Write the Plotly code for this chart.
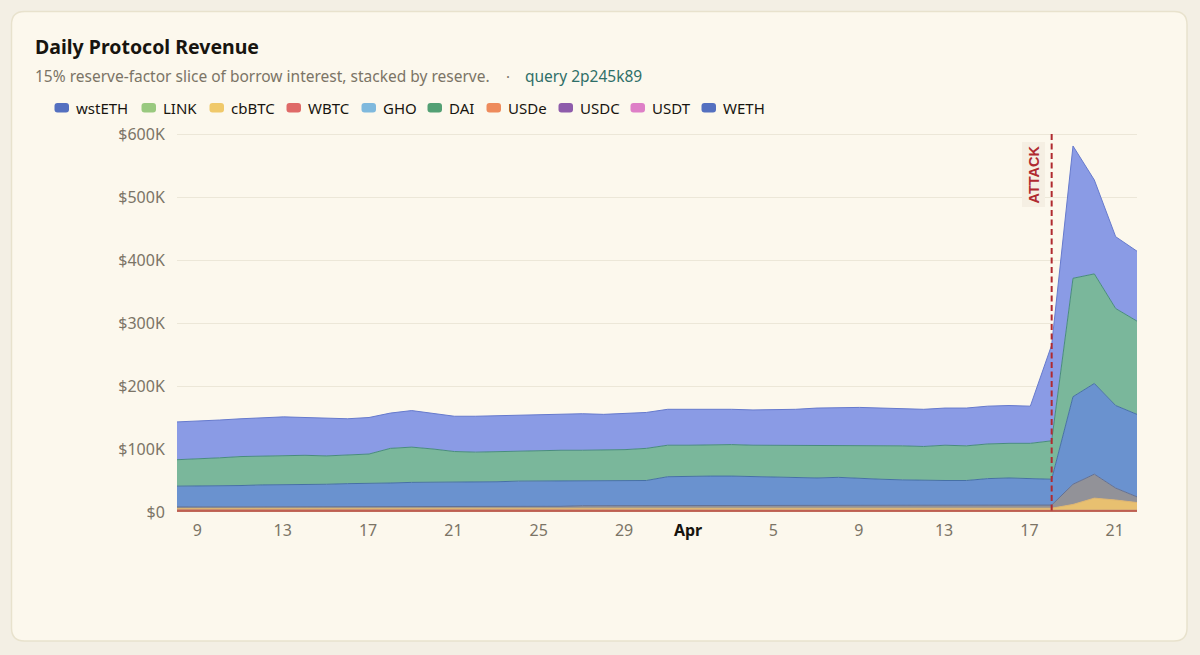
import pandas as pd
import plotly.graph_objects as go

# daily revenue per reserve, $K, Mar 8 - Apr 22
dates = pd.date_range("2025-03-08 01:00", periods=46, freq="D")

WBTC = [3] * 46
USDe = [2] * 43 + [1, 1, 1]
USDC = [0] * 46
USDT = [0] * 46
LINK = [0] * 46
cbBTC = [1] * 42 + [7, 18, 15, 11]
wstETH = [2] * 11 + [3] * 8 + [4] * 19 + [5, 5, 5, 5, 32, 38, 19, 9]
GHO = [33, 33, 34, 34, 35, 35, 36, 36, 37, 37, 38, 38, 38, 39, 39, 39, 40, 40, 40, 40, 40, 39, 40, 46,
       47, 47, 47, 46, 46, 45, 44, 45, 43, 42, 41, 40, 40, 40, 42, 43, 42, 41, 139, 144, 131, 131]
DAI = [42, 43, 44, 46, 46, 47, 46, 45, 45, 47, 55, 56, 53, 48, 47, 48, 48, 49, 49, 48, 48, 50, 51, 50,
       49, 50, 50, 50, 50, 50, 52, 51, 53, 53, 54, 54, 56, 55, 55, 55, 56, 61, 188, 174, 154, 148]
WETH = [60, 60, 60, 60, 60, 61, 60, 60, 58, 58, 56, 58, 57, 56, 57, 57, 56, 56, 57, 58, 57, 57, 57, 57,
        57, 57, 56, 56, 56, 58, 59, 60, 60, 60, 59, 59, 59, 60, 60, 60, 59, 152, 210, 149, 114, 111]

legend_names = ["wstETH", "LINK", "cbBTC", "WBTC", "GHO", "DAI", "USDe", "USDC", "USDT", "WETH"]
legend_colors = ["#5470c0", "#99c97f", "#f0c96a", "#df6a68", "#7fb9dd", "#53a074", "#ee8b5c", "#8e5cab", "#de7fc7", "#5470c0"]
legend_text_x = [76, 163, 231, 308, 383, 449, 508, 580, 652, 723]

y_ticks = [0, 100, 200, 300, 400, 500, 600]
y_labels = ["$0", "$100K", "$200K", "$300K", "$400K", "$500K", "$600K"]
x_ticks = ["2025-03-09", "2025-03-13", "2025-03-17", "2025-03-21", "2025-03-25", "2025-03-29", "2025-04-01",
           "2025-04-05", "2025-04-09", "2025-04-13", "2025-04-17", "2025-04-21"]
x_labels = ["9", "13", "17", "21", "25", "29", "<b style='color:#17140f'>Apr</b>", "5", "9", "13", "17", "21"]
attack_day = "2025-04-18 01:00"

# bottom to top
stack = [
    ("WBTC", WBTC, "rgb(192,104,88)", "rgb(190,90,80)"),
    ("USDe", USDe, "rgb(205,160,120)", "rgb(205,160,120)"),
    ("USDC", USDC, "rgba(0,0,0,0)", "rgba(0,0,0,0)"),
    ("USDT", USDT, "rgba(0,0,0,0)", "rgba(0,0,0,0)"),
    ("LINK", LINK, "rgba(0,0,0,0)", "rgba(0,0,0,0)"),
    ("cbBTC", cbBTC, "rgb(232,192,112)", "rgb(222,180,110)"),
    ("wstETH", wstETH, "rgb(146,146,152)", "rgb(100,112,145)"),
    ("GHO", GHO, "rgb(106,146,207)", "rgb(70,112,165)"),
    ("DAI", DAI, "rgb(122,183,155)", "rgb(72,140,125)"),
    ("WETH", WETH, "rgb(138,155,229)", "rgb(102,122,205)"),
]

# the plot runs 1px above the $600K line so that gridline gets drawn
L, R, T, B = 177, 1137, 133, 512


def px_x(x):
    return (x - L) / (R - L)


def px_y(y):
    return (B - y) / (B - T)


def round_rect(x0, y0, x1, y1, r):
    # path in paper coordinates, pixel input
    pts = (f"M {px_x(x0 + r)} {px_y(y0)} L {px_x(x1 - r)} {px_y(y0)} "
           f"Q {px_x(x1)} {px_y(y0)} {px_x(x1)} {px_y(y0 + r)} L {px_x(x1)} {px_y(y1 - r)} "
           f"Q {px_x(x1)} {px_y(y1)} {px_x(x1 - r)} {px_y(y1)} L {px_x(x0 + r)} {px_y(y1)} "
           f"Q {px_x(x0)} {px_y(y1)} {px_x(x0)} {px_y(y1 - r)} L {px_x(x0)} {px_y(y0 + r)} "
           f"Q {px_x(x0)} {px_y(y0)} {px_x(x0 + r)} {px_y(y0)} Z")
    return pts


fig = go.Figure()
for name, vals, fill, line in stack:
    fig.add_trace(go.Scatter(x=dates, y=vals, name=name, mode="lines", stackgroup="rev",
                             fillcolor=fill, line=dict(color=line, width=1), showlegend=False))

shapes = [
    dict(type="path", path=round_rect(11.5, 11.5, 1187, 641, 13), xref="paper", yref="paper",
         fillcolor="#fcf8ed", line=dict(color="#e8e2cd", width=1.5), layer="below"),
    dict(type="line", x0=attack_day, x1=attack_day, y0=px_y(134), y1=0, xref="x", yref="paper",
         line=dict(color="#b02a30", width=2, dash="6px,3.5px")),
]
FONT = "Noto Sans"
notes = [
    dict(text="<b>Daily Protocol Revenue</b>", x=px_x(33), y=px_y(47), font=dict(size=19.5, color="#17140f")),
    dict(text="15% reserve-factor slice of borrow interest, stacked by reserve.", x=px_x(33), y=px_y(76),
         font=dict(size=15.5, color="#7b7466")),
    dict(text="·", x=px_x(504), y=px_y(76), font=dict(size=15, color="#7b7466")),
    dict(text="query 2p245k89", x=px_x(523), y=px_y(76), font=dict(size=15.5, color="#2f6f68")),
]
for name, color, tx in zip(legend_names, legend_colors, legend_text_x):
    shapes.append(dict(type="path", path=round_rect(tx - 21.5, 103, tx - 7, 112.5, 3), xref="paper", yref="paper",
                       fillcolor=color, line=dict(width=0)))
    notes.append(dict(text=name, x=px_x(tx - 2), y=px_y(107.5), font=dict(size=15, color="#17140f")))

annotations = [dict(n, xref="paper", yref="paper", xanchor="left", yanchor="middle", showarrow=False) for n in notes]
annotations.append(dict(text="<b>ATTACK</b>", x=px_x(1033.5), y=px_y(175), xref="paper", yref="paper", showarrow=False,
                        xanchor="center", yanchor="middle", textangle=-90, bgcolor="#f5efe3", borderpad=3,
                        font=dict(family="Liberation Sans", size=14.5, color="#b02a30")))

fig.update_layout(
    width=1200, height=655,
    margin=dict(l=L, r=1200 - R, t=T, b=655 - B),
    paper_bgcolor="#f3efe4", plot_bgcolor="rgba(0,0,0,0)",
    font=dict(family=FONT, size=16, color="#7b7466"),
    shapes=shapes, annotations=annotations, showlegend=False,
    xaxis=dict(type="date", range=["2025-03-08 01:00", "2025-04-22 01:00"], tickvals=x_ticks, ticktext=x_labels,
               showgrid=False, zeroline=False, ticks="outside", ticklen=4, tickcolor="rgba(0,0,0,0)", tickangle=0),
    yaxis=dict(range=[0, 601.6], tickvals=y_ticks, ticktext=y_labels, gridcolor="#ece7d8", gridwidth=1,
               zeroline=False, ticks="outside", ticklen=8, tickcolor="rgba(0,0,0,0)"),
)

fig.write_html("out.html", config=dict(displayModeBar=False),
               post_script="document.body.style.margin='0';document.body.style.overflow='hidden';")
